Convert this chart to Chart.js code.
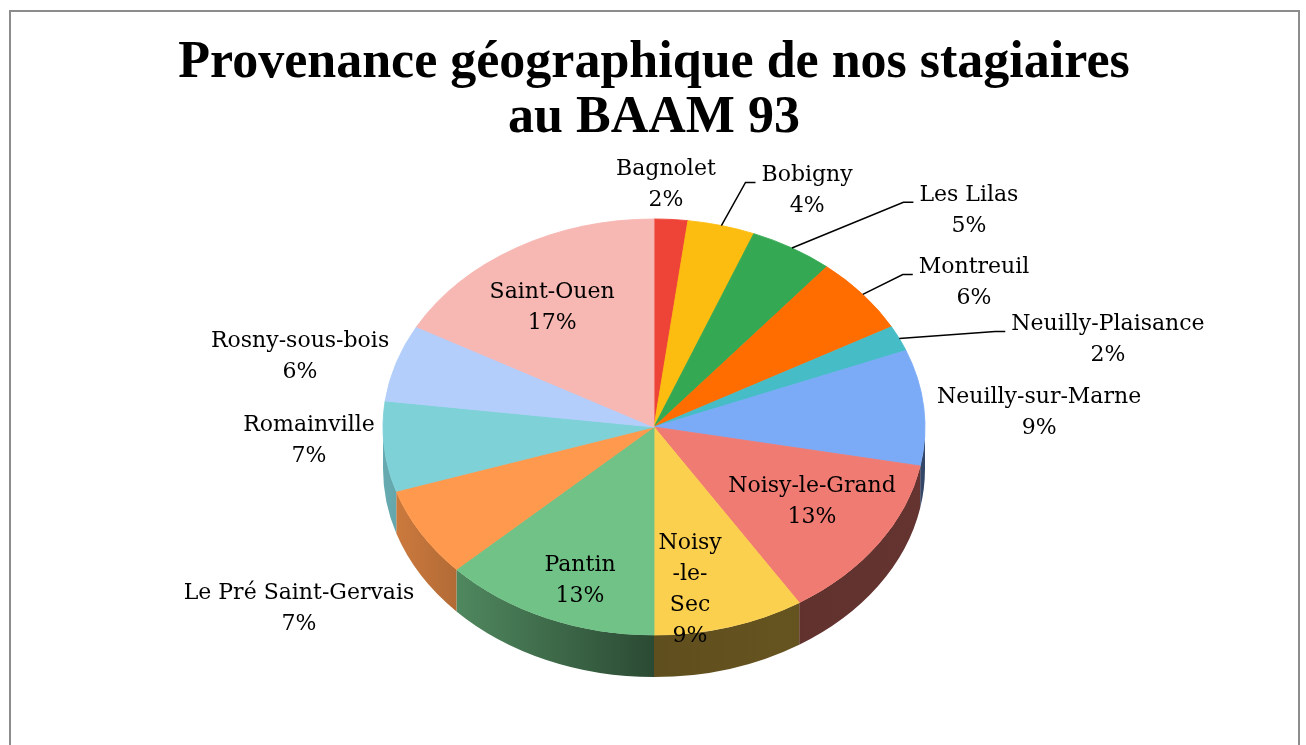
<!DOCTYPE html>
<html>
<head>
<meta charset="utf-8">
<script src="https://cdn.jsdelivr.net/npm/chart.js@4.4.1/dist/chart.umd.min.js"></script>
<style>
html, body { margin: 0; padding: 0; background: #fff; overflow: hidden; }
#frame { position: absolute; left: 9px; top: 10px; width: 1287px; height: 760px; border: 2px solid #8c8c8c; border-bottom: none; }
#wrap { position: absolute; left: 0; top: 0; width: 1306px; height: 745px; }
</style>
</head>
<body>
<div id="frame"></div>
<div id="wrap"><canvas id="myChart" width="1306" height="745"></canvas></div>
<script>
var labels = ['Bagnolet', 'Bobigny', 'Les Lilas', 'Montreuil', 'Neuilly-Plaisance', 'Neuilly-sur-Marne',
  'Noisy-le-Grand', 'Noisy-le-Sec', 'Pantin', 'Le Pré Saint-Gervais', 'Romainville', 'Rosny-sous-bois', 'Saint-Ouen'];
var percents = [2, 4, 5, 6, 2, 9, 13, 9, 13, 7, 7, 6, 17];
var colors = ['#ee4437', '#fdbd10', '#34a853', '#ff6d01', '#46bdc6', '#7baaf7',
  '#f07b72', '#fcd04f', '#71c287', '#ff994d', '#7ed1d7', '#b3cefb', '#f7b7b2'];

// where each label sits, relative to the pie centre in units of the two radii
var labelSpots = [[0.044, -1.163], [0.565, -1.135], [1.162, -1.040], [1.181, -0.692], [1.675, -0.418],
  [1.421, -0.067], [0.583, 0.361], [0.133, 0.784], [-0.273, 0.740], [-1.310, 0.873],
  [-1.273, 0.067], [-1.306, -0.337], [-0.376, -0.572]];
var withLeader = [false, true, true, true, true, false, false, false, false, false, false, false, false];

var tilt = 0.7675;   // vertical squash of the pie
var depth = 42;      // thickness of the pie side

function shade(hex, f) {
  var r = parseInt(hex.substr(1, 2), 16), g = parseInt(hex.substr(3, 2), 16), b = parseInt(hex.substr(5, 2), 16);
  return 'rgb(' + Math.round(r * f) + ',' + Math.round(g * f) + ',' + Math.round(b * f) + ')';
}

function labelLines(name) {
  if (name === 'Noisy-le-Sec') return ['Noisy', '-le-', 'Sec'];
  return [name];
}

var pie3d = {
  id: 'pie3d',
  beforeDatasetsDraw: function(chart) {
    var ctx = chart.ctx;
    var arcs = chart.getDatasetMeta(0).data;
    var cx = arcs[0].x, cy = arcs[0].y, R = arcs[0].outerRadius, ry = R * tilt;
    // side walls, only the front half is visible
    arcs.forEach(function(arc, i) {
      var lo = Math.max(arc.startAngle, 0), hi = Math.min(arc.endAngle, Math.PI);
      if (hi <= lo) return;
      var grad = ctx.createLinearGradient(cx - R, 0, cx + R, 0);
      grad.addColorStop(0, shade(colors[i], 0.82));
      grad.addColorStop(0.5, shade(colors[i], 0.38));
      grad.addColorStop(1, shade(colors[i], 0.42));
      ctx.beginPath();
      ctx.ellipse(cx, cy, R, ry, 0, lo, hi);
      ctx.ellipse(cx, cy + depth, R, ry, 0, hi, lo, true);
      ctx.closePath();
      ctx.fillStyle = grad;
      ctx.fill();
    });
    ctx.save();
    ctx.translate(cx, cy);
    ctx.scale(1, tilt);
    ctx.translate(-cx, -cy);
  },
  afterDatasetsDraw: function(chart) {
    var ctx = chart.ctx;
    ctx.restore();
    var arcs = chart.getDatasetMeta(0).data;
    var cx = arcs[0].x, cy = arcs[0].y, R = arcs[0].outerRadius, ry = R * tilt;
    var lineGap = 31;
    ctx.save();
    ctx.font = '22px "DejaVu Serif"';
    ctx.fillStyle = '#000';
    ctx.textAlign = 'center';
    ctx.textBaseline = 'middle';
    arcs.forEach(function(arc, i) {
      var lines = labelLines(labels[i]).concat([percents[i] + '%']);
      var lx = cx + labelSpots[i][0] * R;
      var ly = cy + labelSpots[i][1] * ry;
      var y0 = ly - (lines.length - 1) * lineGap / 2;
      var widest = 0;
      lines.forEach(function(t, j) {
        ctx.fillText(t, lx, y0 + j * lineGap);
        widest = Math.max(widest, ctx.measureText(t).width);
      });
      if (withLeader[i]) {
        var mid = (arc.startAngle + arc.endAngle) / 2;
        var sx = cx + R * Math.cos(mid), sy = cy + ry * Math.sin(mid);
        var ex = lx - widest / 2 - 6, ey = y0 + 7;
        ctx.beginPath();
        ctx.moveTo(sx, sy);
        ctx.lineTo(ex - 10, ey);
        ctx.lineTo(ex, ey);
        ctx.strokeStyle = '#000';
        ctx.lineWidth = 1.5;
        ctx.stroke();
      }
    });
    ctx.restore();
  }
};

var ctx = document.getElementById('myChart').getContext('2d');
new Chart(ctx, {
  type: 'pie',
  data: {
    labels: labels,
    datasets: [{
      data: percents,
      backgroundColor: colors,
      borderColor: colors,
      borderWidth: 1,
      hoverOffset: 0,
      offset: 0
    }]
  },
  options: {
    responsive: false,
    animation: false,
    events: [],
    radius: 271,
    layout: { padding: { top: 0, bottom: 47, left: 2, right: 0 } },
    plugins: {
      legend: { display: false },
      tooltip: { enabled: false },
      title: {
        display: true,
        text: ['Provenance géographique de nos stagiaires', 'au BAAM 93'],
        color: '#000',
        font: { family: 'Liberation Serif', size: 52, weight: 'bold', lineHeight: 1.058 },
        padding: { top: 36, bottom: 10 }
      }
    }
  },
  plugins: [pie3d]
});
</script>
</body>
</html>
